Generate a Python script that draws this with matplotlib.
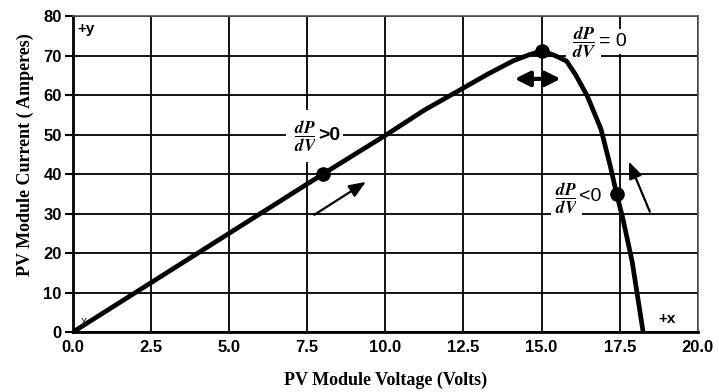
"""PV module I-V curve with the dP/dV regions marked."""

import matplotlib.pyplot as plt

plt.rcParams["mathtext.fontset"] = "stix"

# curve read along the module characteristic
voltage = [0.0, 2.5, 5.0, 7.5, 8.0, 10.0, 11.25, 12.5, 13.3, 14.1, 14.6, 15.0,
           15.4, 15.8, 16.1, 16.46, 16.9, 17.2, 17.4, 17.6, 17.9, 18.25]
current = [0.0, 12.5, 25.0, 37.5, 40.0, 49.8, 56.2, 61.8, 65.4, 68.7, 70.2, 71.2,
           70.1, 68.6, 65.0, 59.8, 51.4, 42.0, 35.0, 28.8, 17.8, 0.0]

# operating points
mark_v = [8.0, 15.0, 17.4]
mark_i = [40.0, 71.2, 35.0]

x_ticks = [0.0, 2.5, 5.0, 7.5, 10.0, 12.5, 15.0, 17.5, 20.0]
y_ticks = [0, 10, 20, 30, 40, 50, 60, 70, 80]

TICK_FONT = dict(family="Liberation Sans", weight="bold", size=12)
LABEL_FONT = dict(family="Liberation Serif", weight="bold", size=13)
SIGN_FONT = dict(family="Liberation Sans", size=14)
WHITE = dict(facecolor="white", edgecolor="none")

fig = plt.figure(figsize=(7.19, 3.92), dpi=100)
ax = fig.add_axes([0.1015, 0.153, 0.869, 0.806])

ax.set_xlim(0, 20)
ax.set_ylim(0, 80)
ax.set_xticks(x_ticks)
ax.set_yticks(y_ticks)
ax.set_xticklabels([f"{t:.1f}" for t in x_ticks], **TICK_FONT)
ax.set_yticklabels([str(t) for t in y_ticks], **TICK_FONT)
ax.tick_params(axis="y", direction="out", length=6, width=1.5, pad=2)
ax.tick_params(axis="x", length=0, pad=6)
ax.grid(True, color="black", linewidth=1.3)
ax.set_axisbelow(True)
for side in ("left", "bottom"):
    ax.spines[side].set_linewidth(2)
for side in ("right", "top"):
    ax.spines[side].set_linewidth(1.2)
    ax.spines[side].set_color("#555555")

ax.plot(voltage, current, color="black", lw=3.4, solid_joinstyle="round", zorder=3)
ax.plot(mark_v, mark_i, "o", color="black", ms=9.5, zorder=4)

ax.set_xlabel("PV Module Voltage (Volts)", labelpad=12, **LABEL_FONT)
ax.set_ylabel("PV Module Current ( Amperes)", **LABEL_FONT)
ax.yaxis.set_label_coords(-0.063, 0.56)

# direction arrows
arrow = dict(arrowstyle="-|>,head_length=1.0,head_width=0.4", color="black", lw=1.6)
ax.annotate("", xy=(9.45, 38.4), xytext=(7.65, 29.3), arrowprops=arrow, zorder=5)
ax.annotate("", xy=(17.76, 43.8), xytext=(18.5, 29.8), arrowprops=arrow, zorder=5)
ax.annotate("", xy=(15.7, 64.1), xytext=(14.05, 64.1),
            arrowprops=dict(arrowstyle="<|-|>,head_length=0.9,head_width=0.45",
                            color="black", lw=3), zorder=5)

# slope labels, each on a white patch that hides the grid behind it
frac = r"$\dfrac{\mathbfit{dP}}{\mathbfit{dV}}$"
ax.text(7.45, 49.6, frac, ha="center", va="center", fontsize=12.5, zorder=2,
        bbox=dict(pad=6, **WHITE))
ax.text(7.85, 49.8, ">0", ha="left", va="center", weight="bold", zorder=2,
        bbox=dict(pad=2, **WHITE), **SIGN_FONT)
ax.text(16.35, 73.5, frac, ha="center", va="center", fontsize=13, zorder=2,
        bbox=dict(pad=4, **WHITE))
ax.text(16.85, 73.5, "= 0", ha="left", va="center", zorder=2,
        bbox=dict(pad=3, **WHITE), **SIGN_FONT)
ax.text(15.8, 33.8, frac, ha="center", va="center", fontsize=12.5, zorder=2,
        bbox=dict(pad=3, **WHITE))
ax.text(16.2, 34.4, "<0", ha="left", va="center", zorder=2,
        bbox=dict(pad=2, **WHITE), **SIGN_FONT)

ax.text(0.15, 76.8, "+y", fontsize=11, weight="bold", family="Liberation Sans",
        ha="left", va="center")
ax.text(18.75, 3.2, "+x", fontsize=11, weight="bold", family="Liberation Sans",
        ha="left", va="center")
ax.text(0.25, 2.5, "x", fontsize=9, family="Liberation Sans", ha="left",
        va="center", color="#333333")

fig.savefig("out.png", dpi=100, facecolor="white")
